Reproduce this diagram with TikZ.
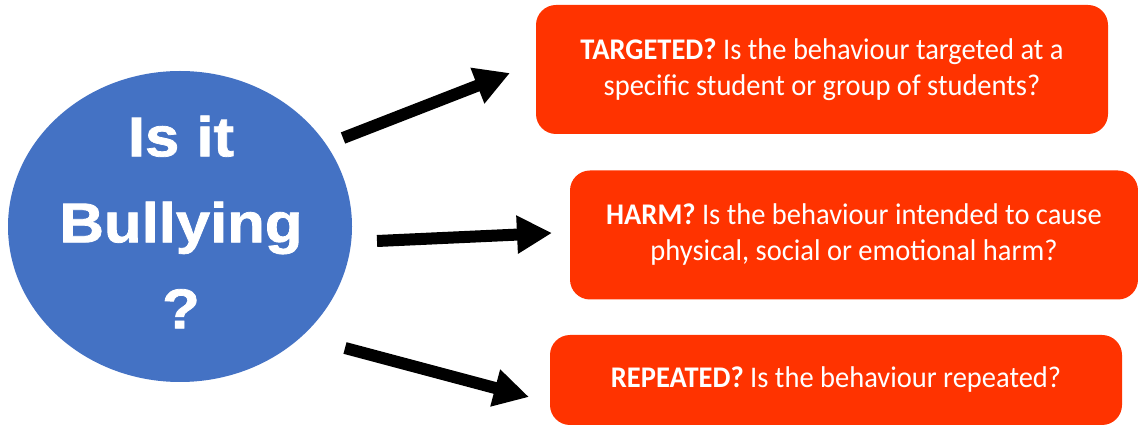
\documentclass[tikz,border=0pt]{standalone}
\usepackage{fontspec}
\setmainfont{Carlito}[FakeStretch=0.95]
\newfontfamily\bubblefont[FakeStretch=1.1,FakeBold=1.4]{Liberation Sans Bold}
\usetikzlibrary{shapes.geometric,arrows.meta}
\definecolor{bubbleblue}{HTML}{4472C4}
\definecolor{boxred}{HTML}{FF3300}
\tikzset{
  bubble/.style={ellipse, fill=bubbleblue, draw=none, minimum width=344pt, minimum height=311pt, inner sep=0pt},
  bubbletext/.style={text=white, align=center, font=\bubblefont\fontsize{56}{86}\selectfont, inner sep=0pt},
  qbox/.style={rectangle, rounded corners=20pt, fill=boxred, draw=none, text=white, align=center,
    font=\fontsize{30}{36}\selectfont, inner sep=0pt},
  bigarrow/.style={line width=12pt, -{Triangle[width=36pt,length=35pt]}, black},
}
\begin{document}
\begin{tikzpicture}[x=1pt,y=-1pt]
\useasboundingbox (0,0) rectangle (1138,427);
\node[bubble] (q) at (180,226.5) {};
\node[bubbletext] (qt) at (181,222) {Is it\\Bullying\\?};
\node[qbox, minimum width=572pt, minimum height=129pt] (b1) at (822,69.5)
  {\textbf{TARGETED?} Is the behaviour targeted at a\\specific student or group of students?};
\node[qbox, minimum width=568pt, minimum height=129pt] (b2) at (854,235)
  {\textbf{HARM?} Is the behaviour intended to cause\\physical, social or emotional harm?};
\node[qbox, minimum width=572pt, minimum height=90pt] (b3) at (836,380)
  {\textbf{REPEATED?} Is the behaviour repeated?};
\coordinate (s1) at (343,138);
\coordinate (e1) at (510,73);
\coordinate (s2) at (377,241);
\coordinate (e2) at (552,233);
\coordinate (s3) at (345,348);
\coordinate (e3) at (529,397);
\draw[bigarrow] (s1) -- (e1);
\draw[bigarrow] (s2) -- (e2);
\draw[bigarrow] (s3) -- (e3);
\end{tikzpicture}
\end{document}
